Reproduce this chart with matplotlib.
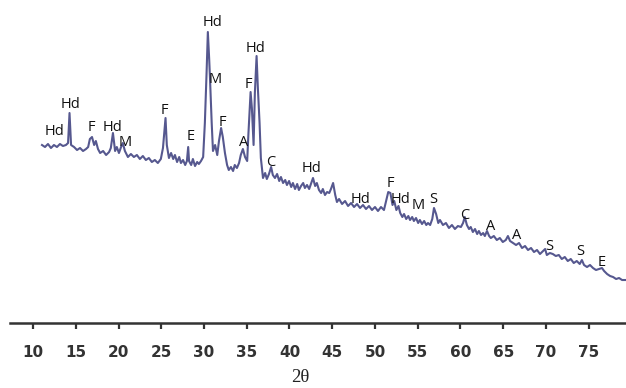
import numpy as np
import matplotlib.pyplot as plt

# XRD pattern (2theta, relative intensity)
two_theta = [11.05, 11.4, 11.75, 12.1, 12.45, 12.8, 13.15, 13.5, 13.85, 14.1, 14.27, 14.45, 14.8, 15.15,
             15.5, 15.85, 16.2, 16.45, 16.65, 16.9, 17.15, 17.35, 17.6, 17.85, 18.2, 18.55, 18.9, 19.1,
             19.35, 19.6, 19.8, 20.05, 20.3, 20.5, 20.75, 21.1, 21.45, 21.8, 22.15, 22.5, 22.85, 23.2,
             23.55, 23.9, 24.25, 24.6, 24.95, 25.2, 25.5, 25.65, 25.9, 26.15, 26.4, 26.6, 26.85, 27.1,
             27.3, 27.55, 27.8, 28.0, 28.15, 28.25, 28.5, 28.7, 28.95, 29.2, 29.4, 29.65, 29.9, 30.1,
             30.3, 30.45, 30.6, 30.7, 30.9, 31.05, 31.3, 31.55, 31.75, 32.0, 32.2, 32.45, 32.7, 32.9,
             33.15, 33.4, 33.6, 33.85, 34.1, 34.3, 34.55, 34.8, 35.05, 35.2, 35.45, 35.6, 35.8, 35.95,
             36.15, 36.3, 36.5, 36.65, 36.9, 37.15, 37.35, 37.6, 37.85, 38.05, 38.3, 38.55, 38.8, 39.0,
             39.25, 39.5, 39.7, 39.95, 40.2, 40.4, 40.65, 40.9, 41.1, 41.35, 41.6, 41.8, 42.05, 42.3,
             42.55, 42.75, 43.0, 43.2, 43.45, 43.7, 43.9, 44.15, 44.4, 44.65, 44.85, 45.1, 45.35, 45.55,
             45.8, 46.15, 46.5, 46.85, 47.2, 47.55, 47.9, 48.25, 48.6, 48.95, 49.3, 49.65, 50.0, 50.35,
             50.7, 51.05, 51.3, 51.55, 51.8, 52.05, 52.25, 52.5, 52.75, 52.95, 53.2, 53.4, 53.65, 53.9,
             54.1, 54.35, 54.55, 54.8, 55.05, 55.25, 55.5, 55.75, 56.0, 56.2, 56.45, 56.7, 56.9, 57.15,
             57.4, 57.6, 57.95, 58.3, 58.65, 59.0, 59.35, 59.7, 60.05, 60.3, 60.5, 60.75, 61.0, 61.2,
             61.45, 61.7, 61.95, 62.15, 62.4, 62.65, 62.85, 63.1, 63.35, 63.55, 63.9, 64.25, 64.6, 64.95,
             65.3, 65.55, 65.8, 66.15, 66.5, 66.85, 67.2, 67.55, 67.9, 68.25, 68.6, 68.95, 69.3, 69.65,
             69.9, 70.1, 70.45, 70.8, 71.15, 71.5, 71.85, 72.2, 72.55, 72.9, 73.25, 73.6, 73.95, 74.2,
             74.45, 74.8, 75.15, 75.5, 75.85, 76.2, 76.55, 76.8, 77.15, 77.5, 77.85, 78.2, 78.55, 78.9,
             79.35]
intensity = [178, 176, 179, 175, 178, 176, 179, 177, 178, 180, 210, 178, 176, 173,
             175, 172, 174, 176, 184, 186, 178, 182, 174, 170, 172, 168, 171, 175,
             190, 172, 176, 170, 176, 180, 172, 166, 169, 166, 168, 164, 167, 163,
             165, 161, 163, 160, 164, 175, 205, 178, 165, 170, 164, 168, 161, 166,
             160, 163, 158, 162, 176, 162, 158, 164, 157, 161, 159, 162, 166, 200,
             250, 291, 265, 245, 200, 172, 178, 168, 182, 195, 186, 170, 158, 153,
             156, 152, 158, 155, 160, 168, 174, 166, 162, 190, 231, 215, 178, 230,
             267, 235, 200, 165, 145, 150, 144, 149, 156, 148, 145, 149, 142, 146,
             140, 143, 138, 142, 136, 140, 134, 139, 133, 137, 140, 135, 138, 134,
             140, 145, 137, 140, 133, 130, 134, 128, 131, 130, 134, 140, 128, 121,
             124, 119, 122, 117, 120, 116, 119, 115, 118, 114, 117, 113, 116, 112,
             116, 113, 122, 131, 130, 118, 122, 113, 117, 110, 106, 109, 104, 107,
             103, 106, 102, 105, 100, 103, 99, 102, 98, 100, 98, 104, 115, 109,
             100, 103, 98, 100, 95, 98, 94, 97, 96, 100, 106, 98, 94, 96,
             91, 94, 89, 92, 88, 90, 87, 92, 87, 85, 87, 83, 85, 81,
             83, 87, 82, 80, 78, 80, 75, 77, 73, 75, 71, 73, 69, 72,
             74, 68, 70, 69, 67, 68, 64, 66, 62, 64, 60, 62, 59, 63,
             58, 56, 58, 55, 53, 54, 55, 52, 49, 47, 46, 44, 45, 43,
             43]

# phase labels: text, 2theta, height of label
peak_labels = ['Hd', 'Hd', 'F', 'Hd', 'M', 'F', 'E', 'Hd', 'M', 'F', 'A', 'F', 'Hd', 'C',
               'Hd', 'Hd', 'F', 'Hd', 'M', 'S', 'C', 'A', 'A', 'S', 'S', 'E']
peak_x = [12.57, 14.33, 16.78, 19.24, 20.76, 25.32, 28.48, 30.94, 31.29, 32.11, 34.68, 35.15,
          36.08, 37.84, 42.63, 48.25, 51.75, 52.95, 55.0, 56.78, 60.53, 63.57, 66.61, 70.35,
          73.98, 76.55]
peak_y = [192, 219, 196, 196, 181, 213, 187, 301, 244, 201, 181, 239, 275, 161, 155, 124, 140,
          124, 118, 124, 108, 97, 88, 77, 72, 61]

xticks = [10, 15, 20, 25, 30, 35, 40, 45, 50, 55, 60, 65, 70, 75]

fig = plt.figure(figsize=(6.26, 3.88), dpi=100)
ax = fig.add_axes([0.016, 0.1675, 0.984, 0.8325])

ax.plot(two_theta, intensity, color='#56588f', lw=1.5, solid_joinstyle='round')

for lab, px, py in zip(peak_labels, peak_x, peak_y):
    ax.text(px, py, lab, ha='center', va='center', fontsize=10.5,
            family=['Open Sans', 'DejaVu Sans'], color='#111111')

ax.set_xlim(7.31, 79.36)
ax.set_ylim(0, 323)
ax.set_xticks(xticks)
ax.set_xticklabels([str(t) for t in xticks], fontsize=11, fontweight='bold', color='#333333')
ax.tick_params(axis='x', direction='out', length=4.5, width=1.6, color='#333333', pad=11)
ax.set_yticks([])
for side in ['top', 'right', 'left']:
    ax.spines[side].set_visible(False)
ax.spines['bottom'].set_linewidth(1.8)
ax.spines['bottom'].set_color('#333333')

fig.text(300 / 626, 1 - 377 / 388, '2θ', ha='center', va='center', fontsize=13.5,
         family=['Liberation Serif', 'DejaVu Serif'], color='#222222')

plt.savefig('out.png', dpi=100)
plt.close()
